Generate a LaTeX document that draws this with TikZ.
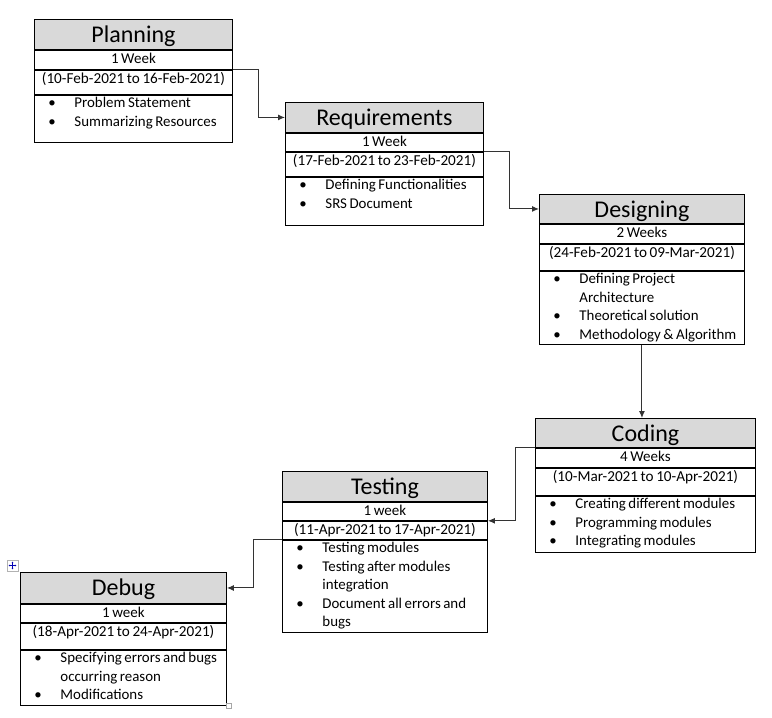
\documentclass[tikz,border=0pt]{standalone}
\usepackage{fontspec}
\setmainfont{Carlito}
\usetikzlibrary{positioning,arrows.meta}

\definecolor{headgray}{HTML}{D9D9D9}

\tikzset{
  phase/.style={draw, line width=0.9pt, inner sep=0pt, anchor=north, align=center,
    execute at begin node={\spaceskip=0.17em\relax}},
  head/.style={phase, fill=headgray, anchor=north west,
    font=\fontsize{24}{28}\selectfont, text height=23pt, text depth=7pt},
  weeks/.style={phase, font=\fontsize{15}{18.5}\selectfont,
    text height=13.5pt, text depth=5.5pt},
  dates/.style={phase, font=\fontsize{15.2}{18.5}\selectfont,
    text height=13.5pt, text depth=#1},
  dates/.default=10.5pt,
  items/.style={phase, align=left, font=\fontsize{14.9}{18.5}\selectfont,
    text height=12.5pt, text depth=#1},
  flow/.style={draw=black!80, line width=1pt, -{Latex[length=7pt,width=6pt]}}
}

\newcommand{\bul}{\makebox[40pt][l]{\hspace*{14pt}\textbullet}}
\newcommand{\cont}{\hspace*{40pt}}

\begin{document}
\begin{tikzpicture}[x=1pt, y=-1pt]
  \useasboundingbox (0,0) rectangle (772,718);

  % Planning
  \begin{scope}[nodes={text width=198pt}]
    \node[head] (plan) at (34,19) {Planning};
    \node[weeks, below=0pt of plan] (plan-wk) {1 Week};
    \node[dates, below=0pt of plan-wk] (plan-dt) {(10-Feb-2021 to 16-Feb-2021)};
    \node[items=34.5pt, below=0pt of plan-dt] (plan-it)
      {\bul Problem Statement\\ \bul Summarizing Resources};
  \end{scope}

  % Requirements
  \begin{scope}[nodes={text width=198pt}]
    \node[head] (req) at (285,102) {Requirements};
    \node[weeks, text depth=4.5pt, below=0pt of req] (req-wk) {1 Week};
    \node[dates, below=0pt of req-wk] (req-dt) {(17-Feb-2021 to 23-Feb-2021)};
    \node[items=35.5pt, below=0pt of req-dt] (req-it)
      {\bul Defining Functionalities\\ \bul SRS Document};
  \end{scope}

  % Designing
  \begin{scope}[nodes={text width=205pt}]
    \node[head, text depth=6pt] (des) at (539,194) {Designing};
    \node[weeks, below=0pt of des] (des-wk) {2 Weeks};
    \node[dates=12.5pt, below=0pt of des-wk] (des-dt) {(24-Feb-2021 to 09-Mar-2021)};
    \node[items=60.5pt, below=0pt of des-dt] (des-it)
      {\bul Defining Project\\ \cont Architecture\\ \bul Theoretical solution\\
       \bul Methodology \& Algorithm};
  \end{scope}

  % Coding
  \begin{scope}[nodes={text width=220pt}]
    \node[head, text depth=6pt] (cod) at (535,418) {Coding};
    \node[weeks, below=0pt of cod] (cod-wk) {4 Weeks};
    \node[dates=13.5pt, below=0pt of cod-wk] (cod-dt) {(10-Mar-2021 to 10-Apr-2021)};
    \node[items=43.5pt, below=0pt of cod-dt] (cod-it)
      {\bul Creating different modules\\ \bul Programming modules\\
       \bul Integrating modules};
  \end{scope}

  % Testing
  \begin{scope}[nodes={text width=205pt}]
    \node[head] (tst) at (282,471) {Testing};
    \node[weeks, text depth=4.5pt, below=0pt of tst] (tst-wk) {1 week};
    \node[dates=4.5pt, below=0pt of tst-wk] (tst-dt) {(11-Apr-2021 to 17-Apr-2021)};
    \node[items=79.5pt, below=0pt of tst-dt] (tst-it)
      {\bul Testing modules\\ \bul Testing after modules\\ \cont integration\\
       \bul Document all errors and\\ \cont bugs};
  \end{scope}

  % Debug
  \begin{scope}[nodes={text width=206pt}]
    \node[head, text depth=8pt] (dbg) at (20,572) {Debug};
    \node[weeks, text depth=4.5pt, below=0pt of dbg] (dbg-wk) {1 week};
    \node[dates=12.5pt, below=0pt of dbg-wk] (dbg-dt) {(18-Apr-2021 to 24-Apr-2021)};
    \node[items=42.5pt, below=0pt of dbg-dt] (dbg-it)
      {\bul Specifying errors and bugs\\ \cont occurring reason\\ \bul Modifications};
  \end{scope}

  % connectors
  \draw[flow] (plan-wk.south east) -- ++(26,0) |- (req.west);
  \draw[flow] (req-wk.south east) -- ++(26,0) |- (des.west);
  \draw[flow] (des-it.south) -- (des-it.south |- cod.north);
  \draw[flow] (cod.south west) -- ++(-20,0) |- (tst-wk.south east);
  \draw[flow] (tst-dt.south west) -- ++(-29,0) |- (dbg.east);

  % table handles
  \draw[gray!60, fill=white, line width=0.6pt] (7,560) rectangle (18,571);
  \draw[blue!70!black, line width=0.5pt, {Latex[length=1.6pt,width=2pt]}-{Latex[length=1.6pt,width=2pt]}]
    (8.5,565.5) -- (16.5,565.5);
  \draw[blue!70!black, line width=0.5pt, {Latex[length=1.6pt,width=2pt]}-{Latex[length=1.6pt,width=2pt]}]
    (12.5,561.5) -- (12.5,569.5);
  \draw[gray!70, fill=white, line width=0.6pt] (226,703) rectangle (231,708);
\end{tikzpicture}
\end{document}
